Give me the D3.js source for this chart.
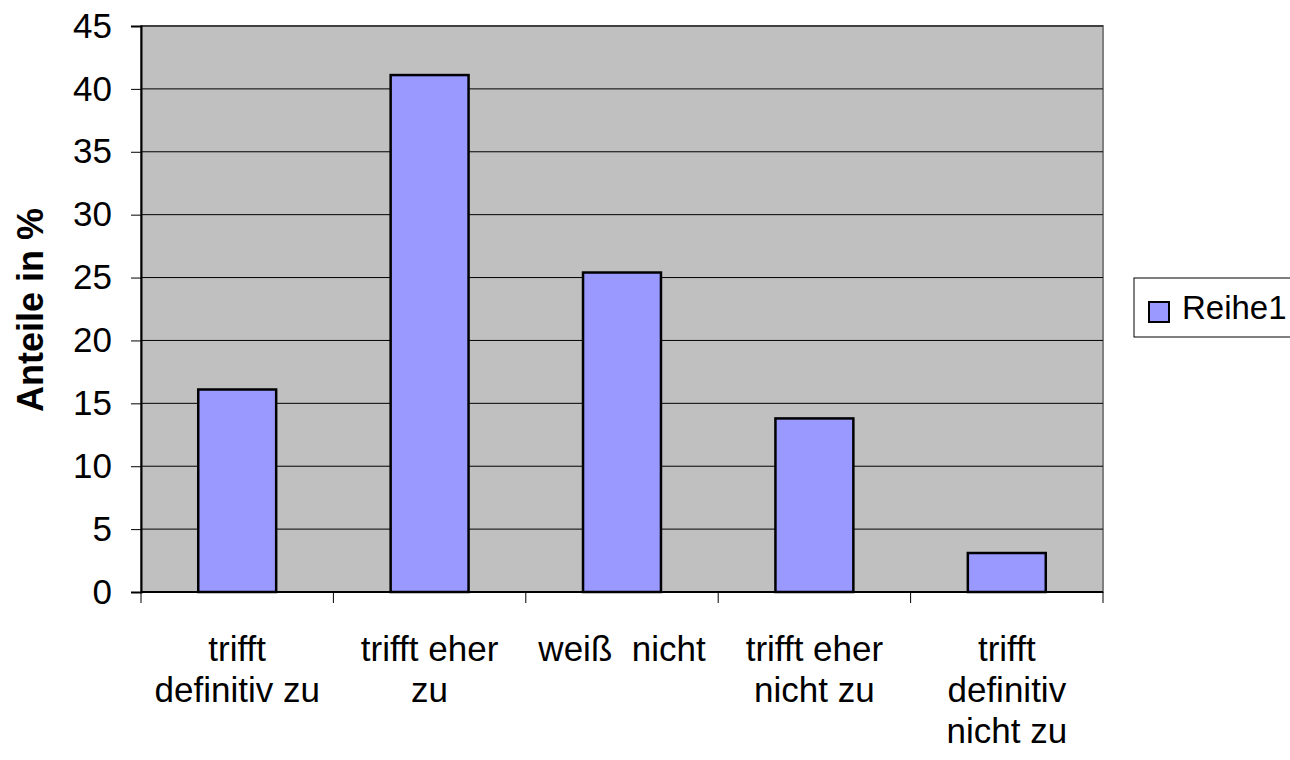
<!DOCTYPE html>
<html>
<head>
<meta charset="utf-8">
<script src="https://cdn.jsdelivr.net/npm/d3@7"></script>
<style>
  body { margin: 0; background: #fff; }
  text { font-family: "Liberation Sans", Arial, sans-serif; }
</style>
</head>
<body>
<div id="chart"></div>
<script>
// data
var categories = [
  ["trifft", "definitiv zu"],
  ["trifft eher", "zu"],
  ["weiß  nicht"],
  ["trifft eher", "nicht zu"],
  ["trifft", "definitiv", "nicht zu"]
];
var values = [16.1, 41.1, 25.4, 13.8, 3.1];
var yTicks = [0, 5, 10, 15, 20, 25, 30, 35, 40, 45];
var seriesName = "Reihe1";

var width = 1290, height = 760;
var plot = { left: 141, right: 1103, top: 26, bottom: 592 };
var fontSize = 35;

var svg = d3.select("#chart").append("svg")
    .attr("width", width)
    .attr("height", height);

var x = d3.scaleBand()
    .domain(d3.range(categories.length))
    .range([plot.left, plot.right]);

var y = d3.scaleLinear()
    .domain([0, 45])
    .range([plot.bottom, plot.top]);

// plot background
svg.append("rect")
    .attr("x", plot.left).attr("y", plot.top)
    .attr("width", plot.right - plot.left)
    .attr("height", plot.bottom - plot.top)
    .attr("fill", "#c0c0c0")
    .attr("stroke", "#808080")
    .attr("stroke-width", 2);

// gridlines
svg.selectAll("line.grid")
  .data(yTicks.slice(1))
  .enter()
    .append("line")
    .attr("class", "grid")
    .attr("x1", plot.left).attr("x2", plot.right)
    .attr("y1", function(d){ return y(d); })
    .attr("y2", function(d){ return y(d); })
    .attr("stroke", "#000")
    .attr("stroke-width", 1);

// bars
var barW = x.bandwidth() * 0.405;
svg.selectAll("rect.bar")
  .data(values)
  .enter()
    .append("rect")
    .attr("class", "bar")
    .attr("x", function(d, i){ return x(i) + x.bandwidth() / 2 - barW / 2; })
    .attr("y", function(d){ return y(d); })
    .attr("width", barW)
    .attr("height", function(d){ return y(0) - y(d); })
    .attr("fill", "#9999ff")
    .attr("stroke", "#000")
    .attr("stroke-width", 2.5);

// y axis
var yAxis = svg.append("g")
    .attr("transform", "translate(" + plot.left + ",0)")
    .call(d3.axisLeft(y).tickValues(yTicks).tickSize(10).tickPadding(19));
yAxis.select(".domain").attr("stroke", "#000").attr("stroke-width", 2);
yAxis.selectAll(".tick line").attr("stroke", "#000");
yAxis.selectAll(".tick text")
    .attr("font-size", fontSize)
    .attr("fill", "#000")
    .style("font-family", "Liberation Sans, Arial, sans-serif");

// x axis
var xEdges = d3.range(categories.length + 1).map(function(i){
  return plot.left + i * x.step();
});
var xAxis = svg.append("g");
xAxis.append("line")
    .attr("x1", plot.left).attr("x2", plot.right)
    .attr("y1", plot.bottom).attr("y2", plot.bottom)
    .attr("stroke", "#000").attr("stroke-width", 2);
xAxis.selectAll("line.xtick")
  .data(xEdges)
  .enter()
    .append("line")
    .attr("class", "xtick")
    .attr("x1", function(d){ return d; })
    .attr("x2", function(d){ return d; })
    .attr("y1", plot.bottom).attr("y2", plot.bottom + 11)
    .attr("stroke", "#000");

xAxis.selectAll("text.xlab")
  .data(categories)
  .enter()
    .append("text")
    .attr("class", "xlab")
    .attr("text-anchor", "middle")
    .attr("font-size", fontSize)
    .attr("xml:space", "preserve")
    .style("white-space", "pre")
    .each(function(lines, i) {
      var t = d3.select(this);
      lines.forEach(function(l, j) {
        t.append("tspan")
          .attr("x", x(i) + x.bandwidth() / 2)
          .attr("y", 661 + j * 41)
          .text(l);
      });
    });

// y title
svg.append("text")
    .attr("transform", "translate(43," + 310 + ") rotate(-90)")
    .attr("text-anchor", "middle")
    .attr("font-size", 36)
    .attr("font-weight", "bold")
    .text("Anteile in %");

// legend
var legend = svg.append("g");
legend.append("rect")
    .attr("x", 1134).attr("y", 278)
    .attr("width", 170).attr("height", 59)
    .attr("fill", "#fff")
    .attr("stroke", "#000")
    .attr("stroke-width", 1);
legend.append("rect")
    .attr("x", 1149).attr("y", 302)
    .attr("width", 20).attr("height", 20)
    .attr("fill", "#9999ff")
    .attr("stroke", "#000")
    .attr("stroke-width", 2);
legend.append("text")
    .attr("x", 1182).attr("y", 319)
    .attr("font-size", 33)
    .text(seriesName);
</script>
</body>
</html>
